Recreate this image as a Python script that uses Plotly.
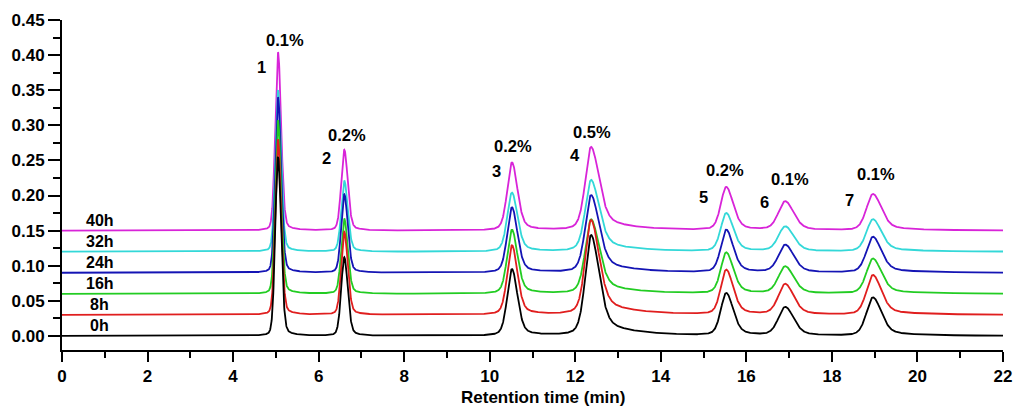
import numpy as np
import plotly.graph_objects as go

# ---------------- data ----------------
series_names = ["0h", "8h", "16h", "24h", "32h", "40h"]
baseline_offsets = [0.00, 0.03, 0.06, 0.09, 0.12, 0.15]
series_colors = ["#000000", "#E01E1E", "#22CC22", "#1414B4", "#33D8D8", "#D824D8"]

peak_ids = ["1", "2", "3", "4", "5", "6", "7"]
peak_percent = ["0.1%", "0.2%", "0.2%", "0.5%", "0.2%", "0.1%", "0.1%"]
peak_times = [5.05, 6.60, 10.52, 12.37, 15.53, 16.91, 18.96]  # min

# peak heights above each trace's own baseline
heights_0h = [0.255, 0.112, 0.095, 0.1435, 0.0604, 0.0405, 0.0547]
heights_8h = [0.250, 0.118, 0.099, 0.135, 0.0636, 0.0433, 0.0565]
heights_16h = [0.247, 0.107, 0.091, 0.106, 0.0583, 0.0384, 0.050]
heights_24h = [0.250, 0.1115, 0.093, 0.1105, 0.0607, 0.0393, 0.051]
heights_32h = [0.230, 0.101, 0.084, 0.102, 0.0545, 0.0354, 0.046]
heights_40h = [0.254, 0.115, 0.097, 0.119, 0.0615, 0.041, 0.052]

# peak shape parameters (half widths in min, tailing)
half_width_left = [0.075, 0.085, 0.13, 0.16, 0.15, 0.19, 0.18]
half_width_right = [0.085, 0.095, 0.15, 0.22, 0.19, 0.23, 0.23]
lorentz_fraction = [0.15, 0.2, 0.3, 0.35, 0.3, 0.3, 0.3]
tail_fraction = [0.02, 0.03, 0.05, 0.12, 0.06, 0.05, 0.08]
tail_decay = [0.3, 0.3, 0.5, 0.9, 0.6, 0.6, 1.0]

x_ticks = [0, 2, 4, 6, 8, 10, 12, 14, 16, 18, 20, 22]
y_ticks = [0.00, 0.05, 0.10, 0.15, 0.20, 0.25, 0.30, 0.35, 0.40, 0.45]

heights = [heights_0h, heights_8h, heights_16h, heights_24h, heights_32h, heights_40h]

# ---------------- build traces ----------------
t = np.linspace(0, 22, 4401)


def peak_shape(x, t0, wl, wr, eta, ta, tau):
    dx = x - t0
    w = np.where(dx < 0, wl, wr)
    u = dx / w
    g = np.exp(-np.log(2) * u ** 2)
    lz = 1.0 / (1.0 + u ** 2)
    pv = (1 - eta) * g + eta * lz
    tail = np.where(dx > 0, np.exp(-np.clip(dx, 0, None) / tau), 0.0)
    return np.where(dx > 0, (1 - ta) * pv + ta * tail, pv)


fig = go.Figure()
FONT = "Liberation Sans, Arial, Helvetica, sans-serif"

order = list(range(len(series_names)))[::-1]
for i in order:
    y = np.full_like(t, baseline_offsets[i])
    for k in range(len(peak_times)):
        y = y + heights[i][k] * peak_shape(
            t, peak_times[k], half_width_left[k], half_width_right[k],
            lorentz_fraction[k], tail_fraction[k], tail_decay[k])
    fig.add_trace(go.Scatter(
        x=t, y=y, mode="lines", name=series_names[i],
        line=dict(color=series_colors[i], width=1.8),
        showlegend=False, hoverinfo="skip"))

annotations = []
# series labels just above each baseline
for i, name in enumerate(series_names):
    annotations.append(dict(
        x=0.88, y=baseline_offsets[i] + 0.0145, xref="x", yref="y",
        text=name, showarrow=False,
        font=dict(family=FONT, size=16, color="#000000", weight="bold")))

# peak number / percentage label placements (data coordinates)
number_pos = [(4.67, 0.383), (6.19, 0.253), (10.15, 0.235), (11.99, 0.258),
              (14.99, 0.198), (16.43, 0.191), (18.42, 0.193)]
percent_pos = [(5.22, 0.4215), (6.66, 0.286), (10.55, 0.270), (12.38, 0.291),
               (15.50, 0.237), (17.03, 0.223), (19.04, 0.2305)]
for k in range(len(peak_ids)):
    annotations.append(dict(
        x=number_pos[k][0], y=number_pos[k][1], xref="x", yref="y",
        text=peak_ids[k], showarrow=False,
        font=dict(family=FONT, size=16.5, color="#000000", weight="bold")))
    annotations.append(dict(
        x=percent_pos[k][0], y=percent_pos[k][1], xref="x", yref="y",
        text=peak_percent[k], showarrow=False,
        font=dict(family=FONT, size=16.5, color="#000000", weight="bold")))

annotations.append(dict(
    x=0.511, y=-0.145, xref="paper", yref="paper", yanchor="middle",
    text="Retention time (min)", showarrow=False,
    font=dict(family=FONT, size=17, color="#000000", weight="bold")))

tickfont = dict(family=FONT, size=17, color="#000000", weight="bold")

fig.update_layout(
    width=1015, height=408,
    margin=dict(l=62, r=12, t=20, b=58, autoexpand=False),
    paper_bgcolor="#FFFFFF", plot_bgcolor="#FFFFFF",
    annotations=annotations,
    xaxis=dict(
        range=[0, 22], tickvals=x_ticks, ticktext=[str(v) for v in x_ticks],
        automargin=False,
        showgrid=False, zeroline=False, showline=True, linecolor="#000000",
        linewidth=2, ticks="outside", ticklen=10, tickwidth=2,
        tickcolor="#000000", tickfont=tickfont,
        minor=dict(dtick=1, tick0=0, ticks="outside", ticklen=6,
                   tickwidth=2, tickcolor="#000000", showgrid=False)),
    yaxis=dict(
        range=[-0.02, 0.45], tickvals=y_ticks,
        ticktext=[f"{v:.2f}" for v in y_ticks],
        automargin=False,
        showgrid=False, zeroline=False, showline=True, linecolor="#000000",
        linewidth=2, ticks="outside", ticklen=12, tickwidth=2,
        tickcolor="#000000", tickfont=tickfont,
        minor=dict(dtick=0.025, tick0=0, ticks="outside", ticklen=7,
                   tickwidth=2, tickcolor="#000000", showgrid=False)),
)

fig.write_html("out.html")
